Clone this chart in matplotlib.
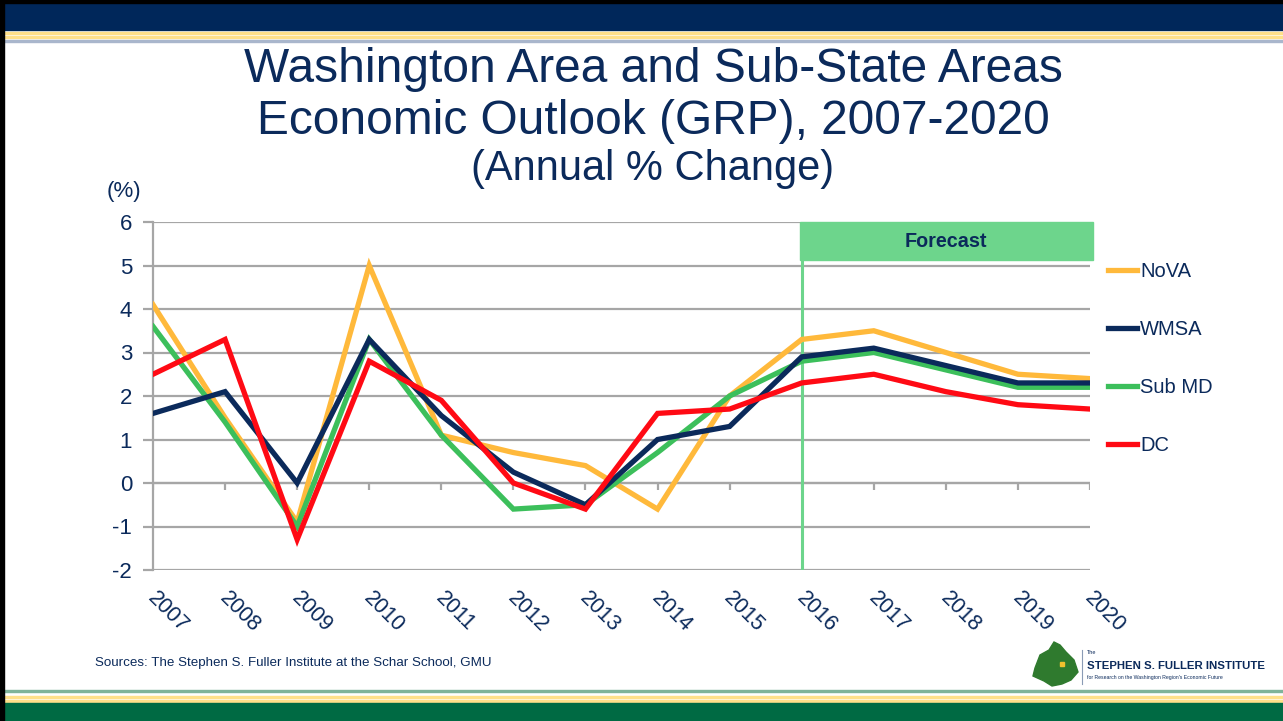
import matplotlib
matplotlib.use("Agg")
import matplotlib.pyplot as plt
from matplotlib import font_manager
from matplotlib.patches import Rectangle, Polygon
from matplotlib.lines import Line2D
from matplotlib.transforms import ScaledTranslation

# data
years = list(range(2007, 2021))
nova = [4.1, 1.5, -0.9, 5.0, 1.1, 0.7, 0.4, -0.6, 2.0, 3.3, 3.5, 3.0, 2.5, 2.4]
wmsa = [1.6, 2.1, 0.0, 3.3, 1.55, 0.25, -0.5, 1.0, 1.3, 2.9, 3.1, 2.7, 2.3, 2.3]
submd = [3.6, 1.4, -1.0, 3.3, 1.1, -0.6, -0.5, 0.7, 2.0, 2.8, 3.0, 2.6, 2.2, 2.2]
dc = [2.5, 3.3, -1.3, 2.8, 1.9, 0.0, -0.6, 1.6, 1.7, 2.3, 2.5, 2.1, 1.8, 1.7]
series = [("NoVA", nova, "#FFB93B"), ("WMSA", wmsa, "#0B2A5B"),
          ("Sub MD", submd, "#3CBF5B"), ("DC", dc, "#FF0A14")]
draw_order = ["NoVA", "Sub MD", "WMSA", "DC"]
yticks = list(range(-2, 7))
forecast_start = 2016

W, H = 1283, 721
NAVY = "#0B2A5B"
GRID = "#A6A6A6"

names = {f.name for f in font_manager.fontManager.ttflist}
narrow = "Liberation Sans Narrow" if "Liberation Sans Narrow" in names else "Liberation Sans"
plt.rcParams["font.family"] = ["Liberation Sans", "DejaVu Sans"]
FAM = [narrow, "DejaVu Sans"]


def fx(x):
    return x / W


def fy(y):
    return 1 - y / H


fig = plt.figure(figsize=(W / 100, H / 100), dpi=100)

# slide decoration: header / footer bands
fig.patches.append(Rectangle((0, fy(30)), 1, fy(0) - fy(30), transform=fig.transFigure, color="#00275A", zorder=0))
fig.patches.append(Rectangle((0, fy(3)), 1, 3 / H, transform=fig.transFigure, color="black", zorder=1))
for y0, h, c in [(32, 2, "#FFE08A"), (36, 2, "#FFE08A"), (40, 2, "#A9B6CC"),
                 (690, 2, "#7FB39A"), (696, 2, "#FFE08A"), (700, 2, "#FFE08A")]:
    fig.patches.append(Rectangle((0, fy(y0 + h)), 1, h / H, transform=fig.transFigure, color=c, zorder=0))
fig.patches.append(Rectangle((0, 0), 1, fy(703), transform=fig.transFigure, color="#006A43", zorder=0))
fig.patches.append(Rectangle((0, 0), 4 / W, 1, transform=fig.transFigure, color="black", zorder=2))

# titles
fig.text(fx(653), fy(70), "Washington Area and Sub-State Areas", ha="center", va="center",
         fontsize=34.5, color=NAVY)
fig.text(fx(653), fy(121), "Economic Outlook (GRP), 2007-2020", ha="center", va="center",
         fontsize=34.5, color=NAVY)
fig.text(fx(653), fy(169), "(Annual % Change)", ha="center", va="center",
         fontsize=30, color=NAVY)

ax = fig.add_axes([fx(153), fy(570), fx(1090) - fx(153), fy(222) - fy(570)])
for name in draw_order:
    lab, vals, col = [s for s in series if s[0] == name][0]
    ax.plot(years, vals, color=col, lw=3.8, solid_joinstyle="miter", zorder=3)

ax.set_xlim(years[0], years[-1])
ax.set_ylim(yticks[0], yticks[-1])
ax.set_yticks(yticks)
ax.set_yticklabels([str(t) for t in yticks], family=FAM, fontsize=16, color=NAVY)
ax.yaxis.grid(True, color=GRID, lw=1.6)
ax.set_axisbelow(True)
for s in ["top", "right", "bottom"]:
    ax.spines[s].set_visible(False)
ax.spines["left"].set_color(GRID)
ax.spines["left"].set_linewidth(1.6)
ax.tick_params(axis="y", length=7, color=GRID, width=1.6, pad=8)

# category axis crosses at 0, labels at bottom
ax.axhline(0, color=GRID, lw=1.6, zorder=1)
ax.vlines(years, -0.17, 0, color=GRID, lw=1.6, zorder=1)
ax.set_xticks(years)
ax.set_xticklabels([str(y) for y in years], rotation=-45, ha="left", va="top",
                   rotation_mode="anchor", family=FAM, fontsize=15.5, color=NAVY)
ax.tick_params(axis="x", length=0, pad=13)
for t in ax.get_xticklabels():
    t.set_transform(t.get_transform() + ScaledTranslation(5 / 100, 0, fig.dpi_scale_trans))

# forecast marker
ax.axvline(forecast_start, ymin=0, ymax=(5.1 - yticks[0]) / (yticks[-1] - yticks[0]),
           color="#6DD58C", lw=2.2, zorder=2)
fig.patches.append(Rectangle((fx(800), fy(260)), fx(1093) - fx(800), fy(222) - fy(260),
                             transform=fig.transFigure, color="#6DD58C", zorder=5))
fig.text(fx(946), fy(241), "Forecast", ha="center", va="center", fontsize=14.2,
         fontweight="bold", color=NAVY, family=FAM, zorder=6)

fig.text(fx(141), fy(191), "(%)", ha="right", va="center", fontsize=16, color=NAVY,
         family=FAM)

# legend
handles = [Line2D([0], [0], color=c, lw=3.8) for _, _, c in series]
fig.legend(handles, [s[0] for s in series], loc="upper left",
           bbox_to_anchor=(fx(1098), fy(252)), frameon=False, handlelength=1.45,
           handletextpad=0.15, labelspacing=1.93, borderpad=0,
           prop={"family": FAM, "size": 14.5}, labelcolor=NAVY)

# source note
fig.text(fx(95), fy(663), "Sources: The Stephen S. Fuller Institute at the Schar School, GMU",
         ha="left", va="center", fontsize=9.6, color=NAVY, family=FAM)

# logo
blob = [(1035, 668), (1040, 655), (1049, 650), (1054, 642), (1060, 645), (1066, 652),
        (1074, 660), (1078, 672), (1071, 680), (1062, 684), (1052, 686), (1044, 681),
        (1033, 676)]
fig.patches.append(Polygon([(fx(x), fy(y)) for x, y in blob], closed=True,
                           transform=fig.transFigure, color="#2F7A2E", zorder=3))
fig.patches.append(Rectangle((fx(1060), fy(666)), 4 / W, 4 / H, transform=fig.transFigure,
                             color="#F2C12E", zorder=4))
fig.add_artist(Line2D([fx(1082), fx(1082)], [fy(650), fy(684)], transform=fig.transFigure,
                      color="#8A9BB5", lw=0.8))
fig.text(fx(1087), fy(652), "The", fontsize=4, color=NAVY, va="center", ha="left")
fig.text(fx(1087), fy(666), "STEPHEN S. FULLER INSTITUTE", fontsize=8.2, color=NAVY,
         fontweight="bold", va="center", ha="left", family=FAM)
fig.text(fx(1087), fy(677), "for Research on the Washington Region's Economic Future",
         fontsize=3.7, color=NAVY, va="center", ha="left", family=FAM)

fig.savefig("out.png", dpi=100)
